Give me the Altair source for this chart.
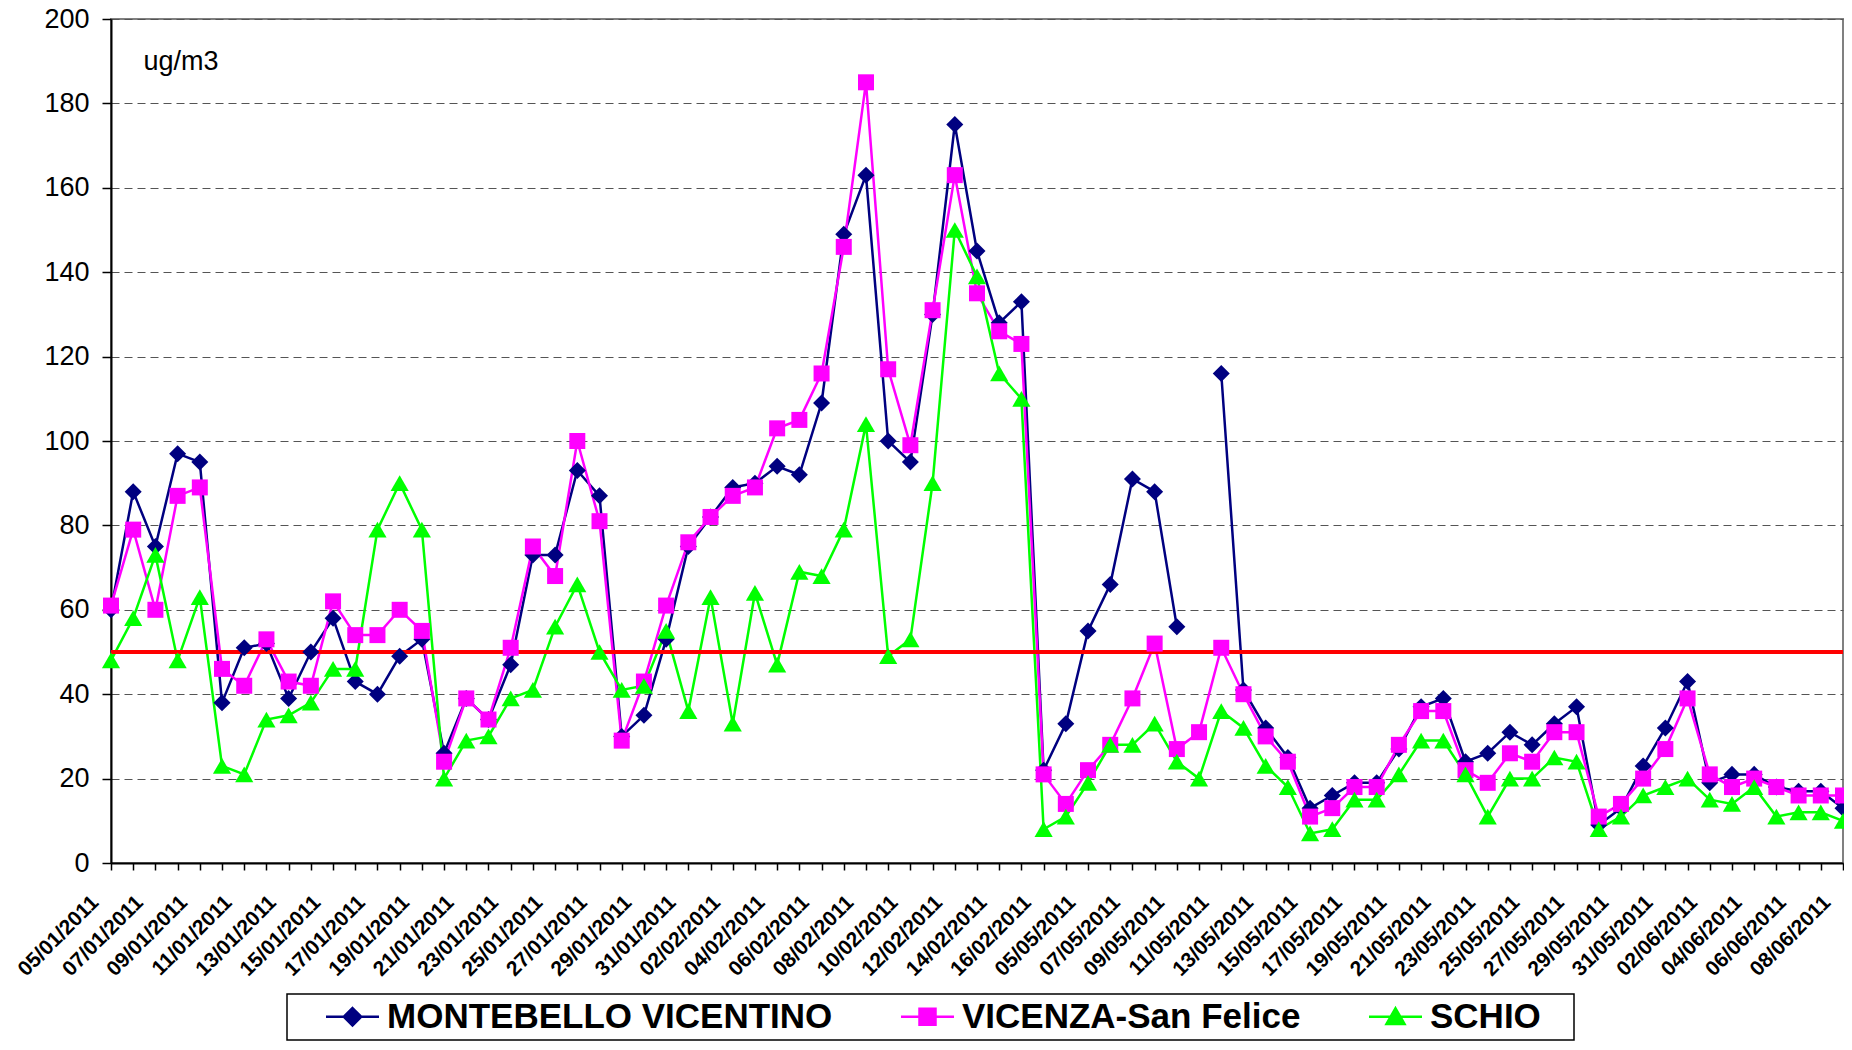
import json
import altair as alt
import pandas as pd

# ---------------- data ----------------
dates = [
    "05/01/2011", "06/01/2011", "07/01/2011", "08/01/2011", "09/01/2011", "10/01/2011",
    "11/01/2011", "12/01/2011", "13/01/2011", "14/01/2011", "15/01/2011", "16/01/2011",
    "17/01/2011", "18/01/2011", "19/01/2011", "20/01/2011", "21/01/2011", "22/01/2011",
    "23/01/2011", "24/01/2011", "25/01/2011", "26/01/2011", "27/01/2011", "28/01/2011",
    "29/01/2011", "30/01/2011", "31/01/2011",
    "01/02/2011", "02/02/2011", "03/02/2011", "04/02/2011", "05/02/2011", "06/02/2011",
    "07/02/2011", "08/02/2011", "09/02/2011", "10/02/2011", "11/02/2011", "12/02/2011",
    "13/02/2011", "14/02/2011", "15/02/2011", "16/02/2011",
    "04/05/2011",
    "05/05/2011", "06/05/2011", "07/05/2011", "08/05/2011", "09/05/2011", "10/05/2011",
    "11/05/2011", "12/05/2011", "13/05/2011", "14/05/2011", "15/05/2011", "16/05/2011",
    "17/05/2011", "18/05/2011", "19/05/2011", "20/05/2011", "21/05/2011", "22/05/2011",
    "23/05/2011", "24/05/2011", "25/05/2011", "26/05/2011", "27/05/2011", "28/05/2011",
    "29/05/2011", "30/05/2011", "31/05/2011",
    "01/06/2011", "02/06/2011", "03/06/2011", "04/06/2011", "05/06/2011", "06/06/2011",
    "07/06/2011", "08/06/2011",
]

montebello = [
    60, 88, 75, 97, 95, 38, 51, 52, 39, 50,
    58, 43, 40, 49, 53, 26, 39, 34, 47, 73,
    73, 93, 87, 30, 35, 53, 75, 82, 89, 90,
    94, 92, 109, 149, 163, 100, 95, 130, 175, 145,
    128, 133, 22, 33, 55, 66, 91, 88, 56, None,
    116, 41, 32, 25, 13, 16, 19, 19, 27, 37,
    39, 24, 26, 31, 28, 33, 37, 9, 13, 23,
    32, 43, 19, 21, 21, 18, 17, 17, 13,
]

vicenza = [
    61, 79, 60, 87, 89, 46, 42, 53, 43, 42,
    62, 54, 54, 60, 55, 24, 39, 34, 51, 75,
    68, 100, 81, 29, 43, 61, 76, 82, 87, 89,
    103, 105, 116, 146, 185, 117, 99, 131, 163, 135,
    126, 123, 21, 14, 22, 28, 39, 52, 27, 31,
    51, 40, 30, 24, 11, 13, 18, 18, 28, 36,
    36, 22, 19, 26, 24, 31, 31, 11, 14, 20,
    27, 39, 21, 18, 20, 18, 16, 16, 16,
]

schio = [
    48, 58, 73, 48, 63, 23, 21, 34, 35, 38,
    46, 46, 79, 90, 79, 20, 29, 30, 39, 41,
    56, 66, 50, 41, 42, 55, 36, 63, 33, 64,
    47, 69, 68, 79, 104, 49, 53, 90, 150, 139,
    116, 110, 8, 11, 19, 28, 28, 33, 24, 20,
    36, 32, 23, 18, 7, 8, 15, 15, 21, 29,
    29, 21, 11, 20, 20, 25, 24, 8, 11, 16,
    18, 20, 15, 14, 18, 11, 12, 12, 10,
]

series_names = ["MONTEBELLO VICENTINO", "VICENZA-San Felice", "SCHIO"]
limit_values = [50]
y_tick_values = list(range(0, 201, 20))
shown_dates = dates[::2]

# ---------------- styles ----------------
series_colors = ["#000080", "#FF00FF", "#00FF00"]
marker_shapes = ["diamond", "square", "triangle-up"]
marker_sizes = [290, 256, 330]
legend_paths = [
    "M-2.65,0H2.65M0,-0.87L0.87,0L0,0.87L-0.87,0Z",
    "M-2.65,0H2.65M-0.8,-0.8H0.8V0.8H-0.8Z",
    "M-2.65,0H2.65M0,-0.85L0.9,0.72L-0.9,0.72ZM16.8,0",
]
FONT = "Liberation Sans"

df = pd.DataFrame({
    "date": dates * 3,
    "series": [n for n in series_names for _ in dates],
    "value": montebello + vicenza + schio,
})
limit_df = pd.DataFrame({"limit": limit_values})

label_expr = "indexof(%s, datum.value) >= 0 ? datum.value : ''" % json.dumps(shown_dates)

x_axis = alt.Axis(
    title=None, grid=False, labelAngle=315, labelAlign="right", labelBaseline="middle",
    labelFont=FONT, labelFontSize=21, labelFontWeight="bold", labelColor="black",
    labelPadding=29, labelOffset=-16, labelOverlap=False, labelBound=False, labelFlush=False,
    labelExpr=label_expr, tickSize=7, tickColor="black", tickWidth=1.5,
    domainColor="black", domainWidth=2,
)
y_axis = alt.Axis(
    values=y_tick_values, grid=True, gridDash=[8, 5], gridColor="#555555", gridWidth=1,
    tickSize=9, tickColor="black", tickWidth=1.5, domainColor="black", domainWidth=2,
    labelFont=FONT, labelFontSize=27, labelColor="black", labelPadding=13,
    title="ug/m3", titleAngle=0, titleAlign="left", titleBaseline="alphabetic",
    titleX=32, titleY=50, titleFont=FONT, titleFontSize=27, titleFontWeight="normal",
    titleColor="black",
)

x_enc = alt.X("date:N", scale=alt.Scale(type="point", domain=dates, padding=0), axis=x_axis)
y_enc = alt.Y("value:Q", scale=alt.Scale(domain=[0, 200], nice=False, zero=True), axis=y_axis)

line_layers = []
point_layers = []
for name, color, shape, size in zip(series_names, series_colors, marker_shapes, marker_sizes):
    sub = alt.Chart(df).transform_filter(alt.datum.series == name)
    line_layers.append(
        sub.mark_line(color=color, strokeWidth=2.5, invalid="break-paths-filter-domains")
        .encode(x=x_enc, y=y_enc)
    )
    point_layers.append(
        sub.mark_point(shape=shape, filled=True, size=size, color=color, opacity=1)
        .encode(x=x_enc, y=y_enc)
    )

rule = alt.Chart(limit_df).mark_rule(color="#FF0000", strokeWidth=4).encode(
    y=alt.Y("limit:Q", scale=alt.Scale(domain=[0, 200], nice=False, zero=True), axis=y_axis)
)

leg = alt.Legend(
    title=None, orient="none", legendX=176, legendY=975, direction="horizontal",
    symbolSize=400, symbolStrokeWidth=2.5, symbolOffset=43, symbolOpacity=1,
    labelOffset=17, columnPadding=34, padding=5,
    labelFont=FONT, labelFontSize=35, labelFontWeight="bold", labelColor="black",
    labelLimit=2000, strokeColor="black", fillColor="white",
)

legend_layer = alt.Chart(df).mark_point(filled=True, strokeWidth=2.5).encode(
    x=x_enc, y=y_enc,
    color=alt.Color("series:N", scale=alt.Scale(domain=series_names, range=series_colors), legend=leg),
    stroke=alt.Stroke("series:N", scale=alt.Scale(domain=series_names, range=series_colors), legend=leg),
    shape=alt.Shape("series:N", scale=alt.Scale(domain=series_names, range=legend_paths), legend=leg),
).transform_filter("false")

chart = alt.layer(*line_layers, rule, *point_layers, legend_layer).properties(
    width=1732, height=844,
    autosize=alt.AutoSizeParams(type="none"),
    padding={"left": 103, "top": 11, "right": 1, "bottom": 179},
).configure_view(
    stroke="#808080", strokeWidth=2
).configure_legend(
    strokeWidth=1.5
)

chart.save("out.html", embed_options={"renderer": "svg", "actions": False})
